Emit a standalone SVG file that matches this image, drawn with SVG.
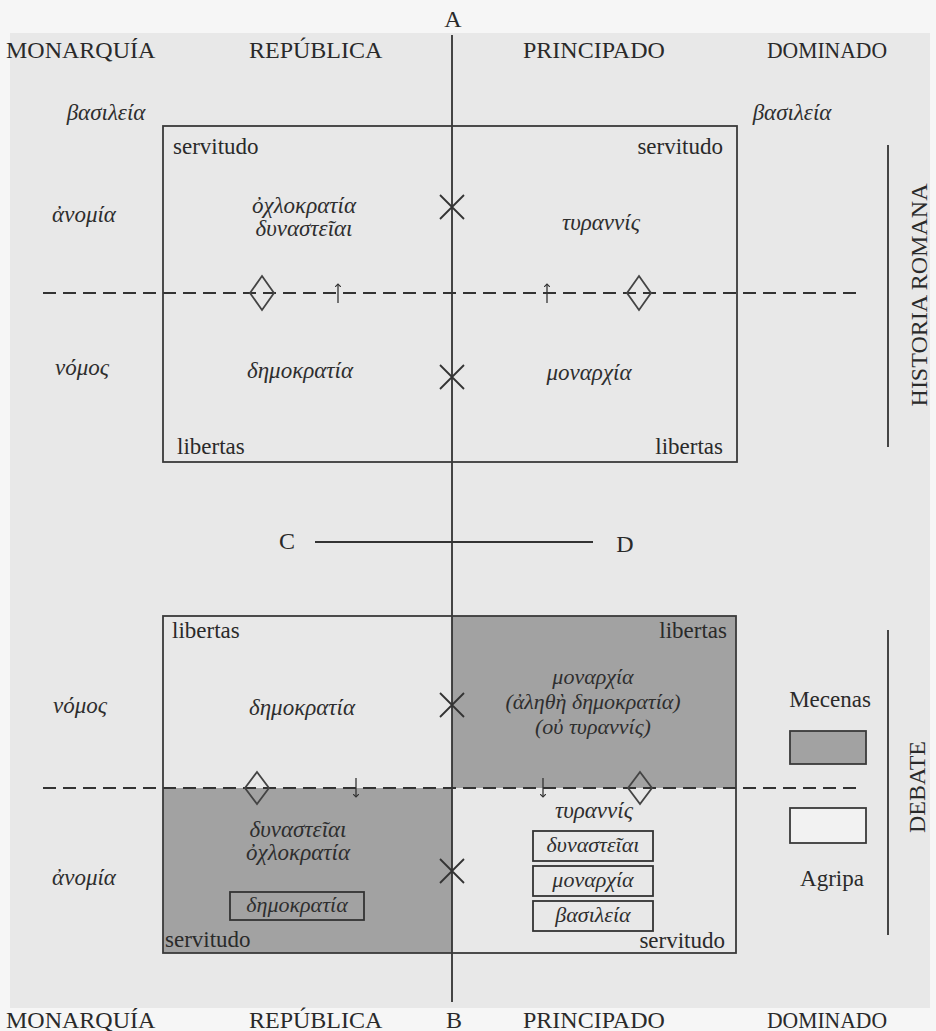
<svg xmlns="http://www.w3.org/2000/svg" width="936" height="1031" viewBox="0 0 936 1031">
<defs>
<style>
.cap{font-family:"Liberation Serif","DejaVu Serif",serif;font-size:24px;fill:#2a2a2a}
.lat{font-family:"Liberation Serif","DejaVu Serif",serif;font-size:23px;fill:#2a2a2a}
.side{font-family:"Liberation Serif","DejaVu Serif",serif;font-size:24px;fill:#2a2a2a}
.gr{font-family:"Liberation Serif","DejaVu Serif",serif;font-style:italic;font-size:23px;fill:#2e2e2e}
.grs{font-family:"Liberation Serif","DejaVu Serif",serif;font-style:italic;font-size:22px;fill:#2e2e2e}
.box{fill:none;stroke:#3a3a3a;stroke-width:1.8}
.ln{stroke:#333;stroke-width:1.8;fill:none}
.dash{stroke:#333;stroke-width:2;stroke-dasharray:13 7;fill:none}
.shade{fill:#a2a2a2}
.dia{fill:none;stroke:#444;stroke-width:1.8}
.sbox{fill:none;stroke:#333;stroke-width:1.8}
</style>
<marker id="ah" markerWidth="6" markerHeight="6" refX="3" refY="3" orient="auto" markerUnits="userSpaceOnUse"><path d="M0,0 L3,3 L0,6" fill="none" stroke="#333" stroke-width="1.2"/></marker>
</defs>
<rect x="0" y="0" width="936" height="1031" fill="#f6f6f6"/>
<rect x="10" y="33" width="920" height="975" fill="#e8e8e8"/>

<g id="shading">
<rect class="shade" x="452" y="616" width="284" height="172"/>
<rect class="shade" x="163" y="788" width="289" height="165"/>
</g>

<g id="headers">
<text class="cap" x="453" y="27" text-anchor="middle">A</text>
<text class="cap" x="6" y="58">MONARQUÍA</text>
<text class="cap" x="249" y="58">REPÚBLICA</text>
<text class="cap" x="523" y="58">PRINCIPADO</text>
<text class="cap" x="767" y="58" textLength="120" lengthAdjust="spacingAndGlyphs">DOMINADO</text>
<text class="cap" x="6" y="1028">MONARQUÍA</text>
<text class="cap" x="249" y="1028">REPÚBLICA</text>
<text class="cap" x="454" y="1028" text-anchor="middle">B</text>
<text class="cap" x="523" y="1028">PRINCIPADO</text>
<text class="cap" x="767" y="1028" textLength="120" lengthAdjust="spacingAndGlyphs">DOMINADO</text>
</g>

<g id="connectors">
<line class="ln" x1="452" y1="35" x2="452" y2="1002"/>
<line class="ln" x1="315" y1="542" x2="593" y2="542"/>
<line class="dash" x1="43" y1="293" x2="863" y2="293"/>
<line class="dash" x1="43" y1="788" x2="863" y2="788"/>
<line class="ln" x1="888" y1="145" x2="888" y2="447" stroke-width="2.2"/>
<line class="ln" x1="888" y1="630" x2="888" y2="935" stroke-width="2.2"/>
<path class="ln" d="M440,195 L464,219 M464,195 L440,219"/>
<path class="ln" d="M440,365 L464,389 M464,365 L440,389"/>
<path class="ln" d="M440,693 L464,717 M464,693 L440,717"/>
<path class="ln" d="M440,859 L464,883 M464,859 L440,883"/>
<line x1="338" y1="303" x2="338" y2="284" stroke="#333" stroke-width="1.3" marker-end="url(#ah)"/>
<line x1="547" y1="303" x2="547" y2="284" stroke="#333" stroke-width="1.3" marker-end="url(#ah)"/>
<line x1="356" y1="778" x2="356" y2="797" stroke="#333" stroke-width="1.3" marker-end="url(#ah)"/>
<line x1="543" y1="778" x2="543" y2="797" stroke="#333" stroke-width="1.3" marker-end="url(#ah)"/>
<path class="dia" d="M262,276 L274,293 L262,310 L250,293 Z"/>
<path class="dia" d="M639,276 L651,293 L639,310 L627,293 Z"/>
<path class="dia" d="M257,772 L269,788 L257,804 L245,788 Z"/>
<path class="dia" d="M640,772 L652,788 L640,804 L628,788 Z"/>
</g>

<g id="top-panel">
<rect class="box" x="163" y="126" width="574" height="336"/>
<text class="gr" x="106" y="120" text-anchor="middle">βασιλεία</text>
<text class="gr" x="792" y="120" text-anchor="middle">βασιλεία</text>
<text class="lat" x="173" y="154">servitudo</text>
<text class="lat" x="723" y="154" text-anchor="end">servitudo</text>
<text class="gr" x="84" y="222" text-anchor="middle">ἀνομία</text>
<text class="gr" x="304" y="213" text-anchor="middle">ὀχλοκρατία</text>
<text class="gr" x="304" y="236" text-anchor="middle">δυναστεῖαι</text>
<text class="gr" x="601" y="230" text-anchor="middle">τυραννίς</text>
<text class="gr" x="82" y="375" text-anchor="middle">νόμος</text>
<text class="gr" x="300" y="378" text-anchor="middle">δημοκρατία</text>
<text class="gr" x="589" y="380" text-anchor="middle">μοναρχία</text>
<text class="lat" x="177" y="454">libertas</text>
<text class="lat" x="723" y="454" text-anchor="end">libertas</text>
</g>

<g id="axis-cd">
<text class="cap" x="287" y="549" text-anchor="middle">C</text>
<text class="cap" x="625" y="552" text-anchor="middle">D</text>
</g>

<g id="bottom-panel">
<rect class="box" x="163" y="616" width="573" height="337"/>
<text class="lat" x="172" y="638">libertas</text>
<text class="lat" x="727" y="638" text-anchor="end">libertas</text>
<text class="gr" x="80" y="713" text-anchor="middle">νόμος</text>
<text class="gr" x="302" y="715" text-anchor="middle">δημοκρατία</text>
<text class="grs" x="593" y="684" text-anchor="middle">μοναρχία</text>
<text class="grs" x="593" y="709" text-anchor="middle">(ἀληθὴ δημοκρατία)</text>
<text class="grs" x="593" y="734" text-anchor="middle">(οὐ τυραννίς)</text>
<text class="gr" x="594" y="818" text-anchor="middle">τυραννίς</text>
<text class="gr" x="298" y="837" text-anchor="middle">δυναστεῖαι</text>
<text class="gr" x="298" y="860" text-anchor="middle">ὀχλοκρατία</text>
<text class="gr" x="84" y="885" text-anchor="middle">ἀνομία</text>
<rect class="sbox" x="230" y="892" width="134" height="28"/>
<text class="grs" x="297" y="912" text-anchor="middle">δημοκρατία</text>
<rect class="sbox" x="533" y="831" width="120" height="30"/>
<text class="grs" x="593" y="852" text-anchor="middle">δυναστεῖαι</text>
<rect class="sbox" x="533" y="866" width="120" height="30"/>
<text class="grs" x="593" y="887" text-anchor="middle">μοναρχία</text>
<rect class="sbox" x="533" y="901" width="120" height="30"/>
<text class="grs" x="593" y="922" text-anchor="middle">βασιλεία</text>
<text class="lat" x="165" y="947">servitudo</text>
<text class="lat" x="725" y="948" text-anchor="end">servitudo</text>
</g>

<g id="legend">
<text class="lat" x="830" y="707" text-anchor="middle">Mecenas</text>
<rect x="790" y="731" width="76" height="33" fill="#a2a2a2" stroke="#3a3a3a" stroke-width="1.8"/>
<rect x="790" y="808" width="76" height="35" fill="#f2f2f2" stroke="#3a3a3a" stroke-width="1.8"/>
<text class="lat" x="832" y="886" text-anchor="middle">Agripa</text>
</g>

<g id="side-labels">
<text class="side" transform="translate(927,295) rotate(-90)" text-anchor="middle">HISTORIA ROMANA</text>
<text class="side" transform="translate(925,787) rotate(-90)" text-anchor="middle">DEBATE</text>
</g>
</svg>
